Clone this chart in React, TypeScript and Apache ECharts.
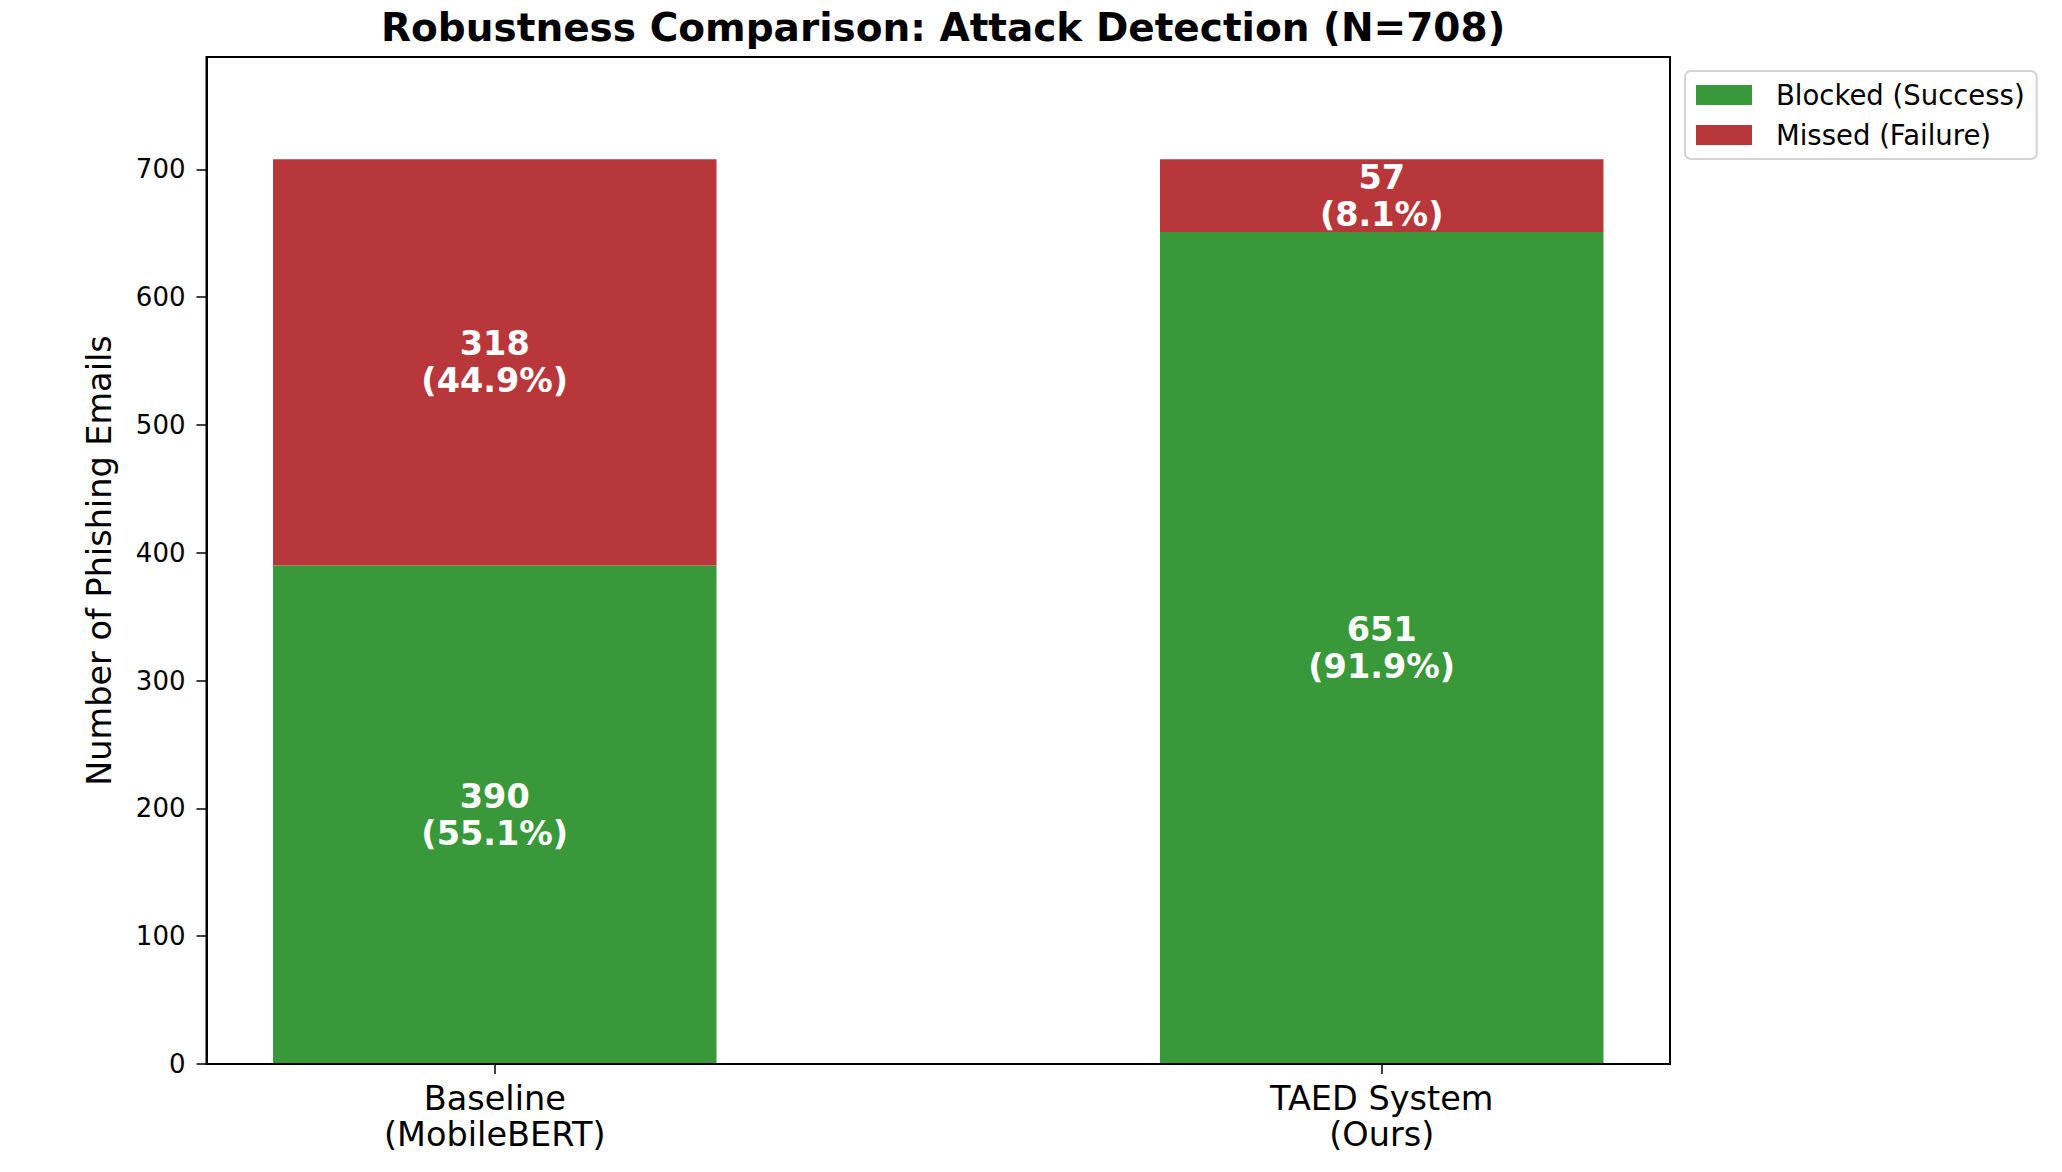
import React, { useEffect, useRef } from "react";
import * as echarts from "echarts";

const TOTAL = 708;
const categories = ["Baseline\n(MobileBERT)", "TAED System\n(Ours)"];
const categoryPositions = [0, 1];
const blocked = [390, 651];
const missed = [318, 57];
const seriesNames = ["Blocked (Success)", "Missed (Failure)"];
const yTicks = [0, 100, 200, 300, 400, 500, 600, 700];

const GREEN = "#399839";
const RED = "#b8373a";
const FONT = "DejaVu Sans";

// Frame geometry (pixels) and the x data range it spans
const FRAME_LEFT = 206.5;
const FRAME_RIGHT = 1670;
const X_MIN = -0.325;
const X_MAX = 1.325;
const Y_MAX = 788;
const TOP = 57;
const BOTTOM = 108;
const W = 2062;

// Bars live in a second grid whose category bands line up with x = 0 and x = 1
const unit = (FRAME_RIGHT - FRAME_LEFT) / (X_MAX - X_MIN);
const barGridLeft = FRAME_LEFT + (0 - X_MIN) * unit - unit / 2;
const barGridRight = W - (FRAME_LEFT + (1 - X_MIN) * unit + unit / 2);

function pct(v: number) {
  return ((v / TOTAL) * 100).toFixed(1);
}

export default function App() {
  const ref = useRef<HTMLDivElement>(null);

  useEffect(() => {
    if (!ref.current) return;
    const chart = echarts.init(ref.current, undefined, { renderer: "svg" });

    const barLabel = {
      show: true,
      position: "inside" as const,
      color: "#ffffff",
      fontFamily: FONT,
      fontWeight: "bold" as const,
      fontSize: 33.5,
      lineHeight: 37,
      formatter: (p: any) => `${p.value}\n(${pct(p.value)}%)`,
    };

    chart.setOption({
      animation: false,
      backgroundColor: "#ffffff",
      title: {
        text: "Robustness Comparison: Attack Detection (N=708)",
        left: (FRAME_LEFT + FRAME_RIGHT) / 2,
        top: 0,
        textAlign: "center",
        textStyle: {
          fontFamily: FONT,
          fontWeight: "bold",
          fontSize: 39,
          lineHeight: 44,
          color: "#000",
        },
      },
      legend: {
        orient: "vertical",
        left: 1685,
        top: 71,
        padding: [10, 12, 10, 11],
        itemGap: 12,
        itemWidth: 56,
        itemHeight: 20,
        borderColor: "#d4d4d4",
        borderWidth: 2,
        borderRadius: 6,
        backgroundColor: "#ffffff",
        icon: "rect",
        data: seriesNames,
        textStyle: {
          fontFamily: FONT,
          fontSize: 27.5,
          lineHeight: 28,
          color: "#000",
          padding: [0, 0, 0, 19],
        },
      },
      grid: [
        {
          left: FRAME_LEFT,
          right: W - FRAME_RIGHT,
          top: TOP,
          bottom: BOTTOM,
          show: true,
          borderColor: "#000",
          borderWidth: 2,
          backgroundColor: "transparent",
          z: 3,
        },
        {
          left: barGridLeft,
          right: barGridRight,
          top: TOP,
          bottom: BOTTOM,
        },
      ],
      xAxis: [
        {
          gridIndex: 0,
          type: "value",
          min: X_MIN,
          max: X_MAX,
          z: 3,
          splitLine: { show: false },
          axisLine: { show: true, onZero: false, lineStyle: { color: "#000", width: 2 } },
          axisTick: {
            show: true,
            length: 10,
            customValues: categoryPositions,
            lineStyle: { color: "#000", width: 1.5 },
          },
          axisLabel: {
            show: true,
            customValues: categoryPositions,
            margin: 16,
            fontFamily: FONT,
            fontSize: 33.5,
            lineHeight: 36,
            color: "#000",
            formatter: (v: number) => categories[Math.round(v)] ?? "",
          },
        },
        {
          gridIndex: 1,
          type: "category",
          data: categories,
          show: false,
        },
      ],
      yAxis: [
        {
          gridIndex: 0,
          type: "value",
          min: 0,
          max: Y_MAX,
          z: 3,
          splitLine: { show: false },
          name: "Number of Phishing Emails",
          nameLocation: "middle",
          nameGap: 90,
          nameTextStyle: { fontFamily: FONT, fontSize: 33.5, color: "#000" },
          axisLine: { show: true, onZero: false, lineStyle: { color: "#000", width: 2 } },
          axisTick: {
            show: true,
            length: 10,
            customValues: yTicks,
            lineStyle: { color: "#000", width: 1.5 },
          },
          axisLabel: {
            customValues: yTicks,
            margin: 21,
            fontFamily: FONT,
            fontSize: 26,
            color: "#000",
          },
        },
        {
          gridIndex: 1,
          type: "value",
          min: 0,
          max: Y_MAX,
          show: false,
          splitLine: { show: false },
        },
      ],
      series: [
        {
          name: seriesNames[0],
          type: "bar",
          xAxisIndex: 1,
          yAxisIndex: 1,
          stack: "total",
          barWidth: "50%",
          itemStyle: { color: GREEN },
          label: barLabel,
          data: blocked,
        },
        {
          name: seriesNames[1],
          type: "bar",
          xAxisIndex: 1,
          yAxisIndex: 1,
          stack: "total",
          barWidth: "50%",
          itemStyle: { color: RED },
          label: barLabel,
          data: missed,
        },
      ],
    });

    return () => chart.dispose();
  }, []);

  return (
    <div
      ref={ref}
      style={{ position: "fixed", left: 0, top: 0, width: 2062, height: 1172 }}
    />
  );
}
